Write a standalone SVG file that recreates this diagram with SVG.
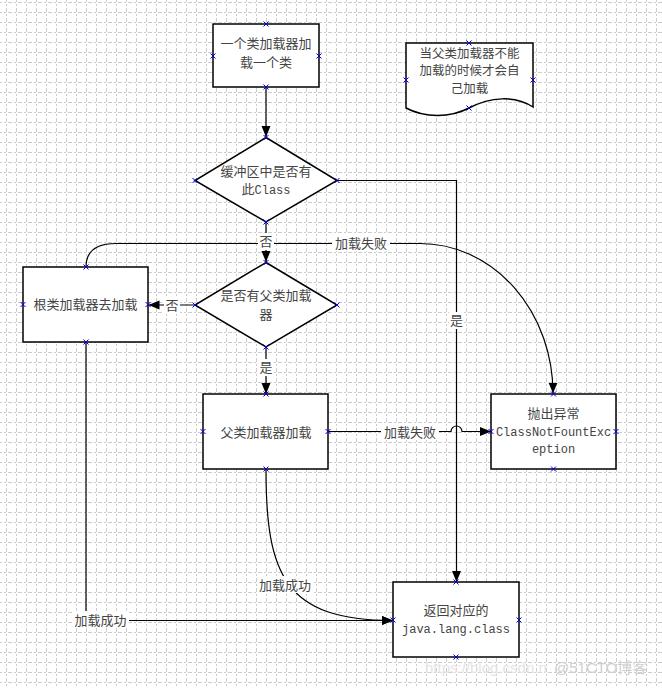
<svg xmlns="http://www.w3.org/2000/svg" width="662" height="688" viewBox="0 0 662 688">
<defs>
<pattern id="grid" patternUnits="userSpaceOnUse" x="0" y="0" width="10" height="10">
<path d="M6.5,0 V10 M0,2.5 H10" stroke="#cccccc" stroke-width="1" stroke-dasharray="2,2" fill="none"/>
</pattern>
<marker id="arr" markerUnits="userSpaceOnUse" markerWidth="12" markerHeight="10" refX="11" refY="5" orient="auto">
<path d="M0,0.5 L11,5 L0,9.5 z" fill="#000"/>
</marker>
<g id="cp"><path d="M-2.5,-2.5 L2.5,2.5 M-2.5,2.5 L2.5,-2.5" stroke="#0000e0" stroke-width="1"/></g>
</defs>
<style>
.node{fill:#fff;stroke:#000;stroke-width:1.5}
.t{font-family:"Noto Sans CJK SC","Liberation Sans",sans-serif;font-size:13px;fill:#444;text-anchor:middle}
.s{font-size:12.5px}
.m{font-family:"Liberation Mono","Noto Sans CJK SC",monospace;font-size:12px}
.c{fill:none;stroke:#000;stroke-width:1.2}
.lb{fill:#fff}
.wm{font-family:"Liberation Sans","Noto Sans CJK SC",sans-serif;font-size:15px}
</style>
<rect width="662" height="688" fill="#fff"/>
<rect width="662" height="688" fill="url(#grid)"/>

<g id="connectors">
<path class="c" d="M266,87.5 L266,137" marker-end="url(#arr)"/>
<path class="c" d="M337,180.5 L456.5,180.5 L456.5,582" marker-end="url(#arr)"/>
<path class="c" d="M266,222 L266,262" marker-end="url(#arr)"/>
<path class="c" d="M195,305 L148.5,305" marker-end="url(#arr)"/>
<path class="c" d="M266,347 L266,394" marker-end="url(#arr)"/>
<path class="c" d="M86,267 C86,252 96,243.5 116,243.5 L420,243.5 A133,150 0 0 1 553,393.5" marker-end="url(#arr)"/>
<path class="c" d="M328.5,431.5 L451,431.5 A5.5,5.5 0 0 1 462,431.5 L491,431.5" marker-end="url(#arr)"/>
<path class="c" d="M266,469.5 C266,575 285,620.5 393,620.5" marker-end="url(#arr)"/>
<path class="c" d="M86,342.5 L86,620.5 L393,620.5" stroke-width="1.6" marker-end="url(#arr)"/>
<rect class="lb" x="258" y="233" width="16" height="17"/>
<text class="t" x="266" y="246">否</text>
<rect class="lb" x="164" y="297" width="16" height="17"/>
<text class="t" x="172" y="310">否</text>
<rect class="lb" x="258" y="359" width="16" height="17"/>
<text class="t" x="266" y="372">是</text>
<rect class="lb" x="449" y="312" width="15" height="17"/>
<text class="t" x="456.5" y="325">是</text>
<rect class="lb" x="332" y="234" width="58" height="17"/>
<text class="t" x="361" y="247.5">加载失败</text>
<rect class="lb" x="381" y="423" width="58" height="17"/>
<text class="t" x="410" y="436.5">加载失败</text>
<rect class="lb" x="257" y="576" width="57" height="17"/>
<text class="t" x="285" y="589.5">加载成功</text>
<rect class="lb" x="72" y="611" width="57" height="17"/>
<text class="t" x="100.5" y="624.5">加载成功</text>
</g>

<g id="start">
<rect class="node" x="213" y="24" width="106" height="63"/>
<text class="t" x="266" y="47.5">一个类加载器加</text>
<text class="t" x="266" y="66.5">载一个类</text>
<use href="#cp" x="266" y="24"/><use href="#cp" x="213" y="56"/><use href="#cp" x="319" y="56"/><use href="#cp" x="266" y="87"/>
</g>

<g id="note">
<path class="node" d="M406,43 L533,43 L533,107 C515,95 490,97 469,108 C450,118 425,118 406,108 Z"/>
<text class="t s" x="469.5" y="57.5">当父类加载器不能</text>
<text class="t s" x="469.5" y="75">加载的时候才会自</text>
<text class="t s" x="469.5" y="92.5">己加载</text>
<use href="#cp" x="469" y="43"/><use href="#cp" x="406" y="80"/><use href="#cp" x="533" y="80"/><use href="#cp" x="469" y="108"/>
</g>

<g id="cache">
<path class="node" d="M266,137.5 L337,180.5 L266,222 L195,180.5 Z" stroke-width="1.2"/>
<text class="t" x="266" y="175.5">缓冲区中是否有</text>
<text class="t" x="266" y="193.5">此<tspan class="m">Class</tspan></text>
<use href="#cp" x="266" y="137.5"/><use href="#cp" x="195" y="180.5"/><use href="#cp" x="337" y="180.5"/><use href="#cp" x="266" y="222"/>
</g>

<g id="hasParent">
<path class="node" d="M266,262.5 L337,305 L266,347 L195,305 Z" stroke-width="1.2"/>
<text class="t" x="266" y="300">是否有父类加载</text>
<text class="t" x="266" y="318.5">器</text>
<use href="#cp" x="266" y="262.5"/><use href="#cp" x="195" y="305"/><use href="#cp" x="337" y="305"/><use href="#cp" x="266" y="347"/>
</g>

<g id="rootLoader">
<rect class="node" x="23" y="267" width="125" height="75"/>
<text class="t" x="85.5" y="309">根类加载器去加载</text>
<use href="#cp" x="86" y="267"/><use href="#cp" x="23" y="304.5"/><use href="#cp" x="148" y="304.5"/><use href="#cp" x="86" y="342"/>
</g>

<g id="parentLoader">
<rect class="node" x="203" y="394" width="125" height="75"/>
<text class="t" x="266" y="436.5">父类加载器加载</text>
<use href="#cp" x="266" y="394"/><use href="#cp" x="203" y="431.5"/><use href="#cp" x="328" y="431.5"/><use href="#cp" x="266" y="469"/>
</g>

<g id="exception">
<rect class="node" x="491" y="394" width="125" height="75"/>
<text class="t" x="553.5" y="417.5">抛出异常</text>
<text class="t m" x="553.5" y="436">ClassNotFountExc</text>
<text class="t m" x="553.5" y="453">eption</text>
<use href="#cp" x="553.5" y="394"/><use href="#cp" x="491" y="431.5"/><use href="#cp" x="616" y="431.5"/><use href="#cp" x="553.5" y="469"/>
</g>

<g id="return">
<rect class="node" x="393" y="582" width="126" height="75"/>
<text class="t" x="456" y="615">返回对应的</text>
<text class="t m" x="456" y="633">java.lang.class</text>
<use href="#cp" x="456" y="582"/><use href="#cp" x="393" y="620"/><use href="#cp" x="519" y="620"/><use href="#cp" x="456" y="657"/>
</g>

<text class="wm" x="425" y="673" fill="#e4e4e4">https://blog.csdn.n</text>
<text class="wm" x="554" y="673" fill="#d0d0d0">@51CTO博客</text>
</svg>
